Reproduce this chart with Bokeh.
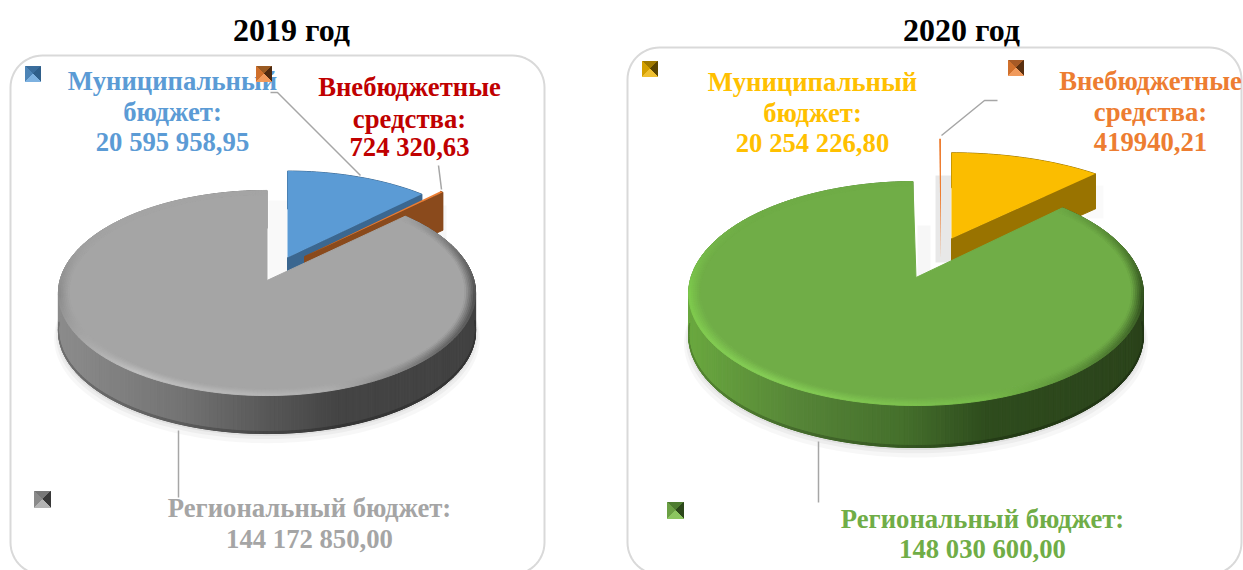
import numpy as np
from bokeh.plotting import figure
from bokeh.models import ColumnDataSource, Range1d
from bokeh.core.properties import value
from bokeh.embed import file_html
from bokeh.resources import INLINE

# ---------- data ----------
titles = ["2019 год", "2020 год"]
categories = ["Муниципальный бюджет", "Внебюджетные средства", "Региональный бюджет"]
values_2019 = [20595958.95, 724320.63, 144172850.00]
values_2020 = [20254226.80, 419940.21, 148030600.00]
value_labels_2019 = ["20 595 958,95", "724 320,63", "144 172 850,00"]
value_labels_2020 = ["20 254 226,80", "419940,21", "148 030 600,00"]

# ---------- style ----------
W, H = 1243, 570
FONT = value("Liberation Serif")
LABEL = "26.7px"
p = figure(width=W, height=H, x_range=Range1d(0, W), y_range=Range1d(H, 0),
           output_backend="svg", toolbar_location=None, min_border=0,
           outline_line_color=None, background_fill_color="white")
p.axis.visible = False
p.grid.visible = False


def hx(c):
    return np.array([int(c[i:i + 2], 16) for i in (1, 3, 5)], float)


def ramp(t, stops):
    ts = [s[0] for s in stops]
    cs = np.array([hx(s[1]) for s in stops])
    rgb = [np.interp(t, ts, cs[:, i]) for i in range(3)]
    return "#%02x%02x%02x" % tuple(int(round(v)) for v in rgb)


def mix(a, b, f):
    v = hx(a) * (1 - f) + hx(b) * f
    return "#%02x%02x%02x" % tuple(int(round(x)) for x in v)


def pt(g, t, r=1.0):
    """t: degrees clockwise from top, mapped through the pie's perspective."""
    c, s = r * np.sin(np.radians(t)), r * np.cos(np.radians(t))
    d = 1 + g["k"] * s
    return g["cx"] + g["rx"] * c / d, g["cy"] - g["a"] * s / d


def arc(g, t0, t1, r=1.0, n=None):
    n = n or max(2, int(abs(t1 - t0) / 1.5) + 2)
    ts = np.linspace(t0, t1, n)
    return pt(g, ts, r)


def draw(polys, alpha=1.0):
    src = ColumnDataSource(dict(xs=[list(q[0]) for q in polys], ys=[list(q[1]) for q in polys],
                                c=[q[2] for q in polys]))
    if alpha == 1.0:
        p.patches("xs", "ys", source=src, fill_color="c", line_color="c", line_width=1)
    else:
        p.patches("xs", "ys", source=src, fill_color="c", line_color=None, fill_alpha=alpha)


def flat_slice(g, t0, t1, top, side):
    """A small slice pulled out from the pie: cut face, outer wall, top face."""
    xa, ya = arc(g, t0, t1)
    d = g["depth"]
    polys = []
    if d > 0:
        polys.append((list(xa) + list(xa[::-1]), list(ya) + list((ya + d)[::-1]), side))
        polys.append(([g["cx"], xa[-1], xa[-1], g["cx"]],
                       [g["cy"], ya[-1], ya[-1] + d, g["cy"] + d], side))
        draw(polys)
    src = ColumnDataSource(dict(x=[g["cx"]] + list(xa), y=[g["cy"]] + list(ya)))
    p.patch("x", "y", source=src, fill_color=top, line_color=None)


def main_slice(g, t0, t1, top, side_stops, rim_stops):
    d = g["depth"]
    # soft shadow under the wall
    for grow, off, al in [(1.02, 7, .03), (1.012, 4, .04), (1.004, 2, .05)]:
        xb, yb = arc(g, 85, 275, grow)
        draw([(list(xb), list(yb + d + off), "#000000")], alpha=al)
    # wall, as a run of small quads
    ts = np.append(np.arange(t0, t1, 1.0), t1)
    polys = []
    for a, b in zip(ts[:-1], ts[1:]):
        x0, y0 = pt(g, a)
        x1, y1 = pt(g, b)
        polys.append(([x0, x1, x1, x0], [y0, y1, y1 + d, y0 + d], ramp((x0 + x1) / 2, side_stops)))
    draw(polys)
    # dark foot of the wall
    tf = np.arange(92, 268, 1.0)
    foot = []
    for a, b in zip(tf[:-1], tf[1:]):
        x0, y0 = pt(g, a)
        x1, y1 = pt(g, b)
        col = ramp((x0 + x1) / 2, side_stops)
        foot.append(([x0, x1, x1, x0], [y0 + d - 2, y1 + d - 2, y1 + d, y0 + d], mix(col, "#000000", .2)))
    draw(foot)
    # top face
    xa, ya = arc(g, t0, t1, 0.95)
    src = ColumnDataSource(dict(x=[g["cx"]] + list(xa), y=[g["cy"]] + list(ya)))
    p.patch("x", "y", source=src, fill_color=top, line_color=top, line_width=1)
    # bevelled rim
    edges = np.linspace(.95, 1.0, 7)
    rim = []
    for r0, r1 in zip(edges[:-1], edges[1:]):
        f = ((r0 + r1) / 2 - .95) / .05
        for a, b in zip(ts[:-1], ts[1:]):
            x0, y0 = pt(g, a, r0)
            x1, y1 = pt(g, b, r0)
            x2, y2 = pt(g, b, r1)
            x3, y3 = pt(g, a, r1)
            rim.append(([x0, x1, x2, x3], [y0, y1, y2, y3], mix(top, ramp((a + b) / 2, rim_stops), f)))
    draw(rim)


def rounded_box(x0, y0, x1, y1, r, color):
    a = np.radians(np.linspace(0, 90, 16))
    xs = list(x1 - r + r * np.sin(a)) + list(x1 - r + r * np.cos(a)) + \
        list(x0 + r - r * np.sin(a)) + list(x0 + r - r * np.cos(a))
    ys = list(y0 + r - r * np.cos(a)) + list(y1 - r + r * np.sin(a)) + \
        list(y1 - r + r * np.cos(a)) + list(y0 + r - r * np.sin(a))
    p.line(xs + xs[:1], ys + ys[:1], line_color=color, line_width=2)


def key(x0, y0, s, top, left, right, bottom):
    xm, ym = x0 + s / 2, y0 + s / 2
    x1, y1 = x0 + s, y0 + s
    draw([([x0, x1, xm], [y0, y0, ym], top), ([x0, x0, xm], [y0, y1, ym], left),
          ([x1, x1, xm], [y0, y1, ym], right), ([x0, x1, xm], [y1, y1, ym], bottom)])


def texts(lines, x, ys, size, color):
    p.text(x=[x] * len(lines), y=ys, text=lines, text_font=FONT, text_font_style="bold",
           text_font_size=size, text_color=color, text_align="center", text_baseline="middle")


def lines_(xs, ys):
    p.line(xs, ys, line_color="#a6a6a6", line_width=1.5)


def shares(vals):
    return np.array(vals) / sum(vals) * 360.0


rounded_box(10, 55, 544, 574, 32, "#d9d9d9")
rounded_box(627, 47, 1241, 574, 32, "#d9d9d9")
p.text(x=[291, 961], y=[29, 29], text=titles, text_font=FONT, text_font_style="bold",
       text_font_size="32px", text_color="#000000", text_align="center", text_baseline="middle")

# ---------- 2019 ----------
a1, a2, a3 = shares(values_2019)
base = dict(cx=266.5, cy=280, rx=207, a=101, k=0.122, depth=38)
draw([([268, 287, 287, 268], [200, 200, 280, 280], "#000000")], alpha=0.025)
draw([([432, 446, 446, 432], [205, 205, 240, 240], "#000000")], alpha=0.03)
flat_slice(dict(base, cx=287, cy=257, a=97), 0, a1, "#5b9bd5", "#3b6790")
# very thin slices look thinner than their angle in the reference's 3D view
flat_slice(dict(base, cx=304, cy=256), a1 + a2 * 0.45, a1 + a2, "#ed7d31", "#8a4a1c")
main_slice(base, a1 + a2, 360, "#a5a5a5",
           [(57, "#8c8c8c"), (180, "#737373"), (265, "#585858"), (335, "#444444"), (475, "#424242")],
           [(46, "#a5a5a5"), (75, "#6a6a6a"), (100, "#4a4a4a"), (130, "#666666"), (165, "#b0b0b0"),
            (215, "#c2c2c2"), (262, "#8a8a8a"), (290, "#a0a0a0"), (310, "#a5a5a5"), (360, "#a5a5a5")])

lines_([270, 277, 360], [92, 92, 175])
lines_([438, 441], [165, 189])
lines_([178, 178], [430, 497])

texts(["Муниципальный", "бюджет:", value_labels_2019[0]], 172, [80, 111, 141], LABEL, "#5b9bd5")
texts(["Внебюджетные", "средства:", value_labels_2019[1]], 409, [86, 118, 146], LABEL, "#c00000")
texts(["Региональный бюджет:", value_labels_2019[2]], 309, [507, 538], LABEL, "#a5a5a5")

key(25, 66, 15, "#3a6d9c", "#4d84b6", "#2f5f8a", "#7db1e0")
key(256, 66, 15, "#9a5a22", "#d0702c", "#4e2a10", "#f09a5c")
key(34, 491, 16, "#777777", "#8a8a8a", "#383838", "#b4b4b4")

# ---------- 2020 ----------
b1, b2, b3 = shares(values_2020)
base2 = dict(cx=915.5, cy=277, rx=225, a=109.7, k=0.143, depth=42)
draw([([935, 951, 951, 935], [175, 175, 262, 262], "#000000")], alpha=0.09)
draw([([917, 930, 930, 917], [225, 225, 278, 278], "#000000")], alpha=0.03)
draw([([1085, 1103, 1103, 1085], [185, 185, 218, 218], "#000000")], alpha=0.02)
flat_slice(dict(cx=951, cy=238, rx=232, a=98, k=0.143, depth=35), 0, b1, "#fbbd00", "#997300")
# the thin slice sits just before the first one, closing the circle
flat_slice(dict(cx=940.5, cy=258, rx=225, a=137, k=0.143, depth=0), 360 - b2 * 0.6, 360, "#ed7d31", "#ed7d31")
main_slice(base2, b1 + 2.5, 360 - b2, "#70ad47",
           [(688, "#6aa83f"), (800, "#558437"), (900, "#45702c"), (985, "#2e4c1d"), (1142, "#2b431b")],
           [(43, "#70ad47"), (75, "#4e7c2f"), (100, "#2d4a1c"), (130, "#4d7a30"), (165, "#78bc4a"),
            (215, "#86cf56"), (262, "#7ecb4c"), (290, "#74b44a"), (310, "#70ad47"), (360, "#70ad47")])

lines_([997, 984, 941], [100, 100, 135])
lines_([818, 818], [441, 502])

texts(["Муниципальный", "бюджет:", value_labels_2020[0]], 812, [81, 112, 142], LABEL, "#ffc000")
texts(["Внебюджетные", "средства:", value_labels_2020[1]], 1150, [80, 111, 141], LABEL, "#ed7d31")
texts(["Региональный бюджет:", value_labels_2020[2]], 982, [518, 548], LABEL, "#70ad47")

key(642, 61, 15, "#a07a00", "#d4a000", "#5a4500", "#f0c030")
key(1008, 60, 15, "#a65a26", "#d0702c", "#5a3010", "#f09a5c")
key(667, 502, 16, "#4e7c30", "#6ba044", "#2c471b", "#8cc560")

open("out.html", "w").write(file_html(p, INLINE))
